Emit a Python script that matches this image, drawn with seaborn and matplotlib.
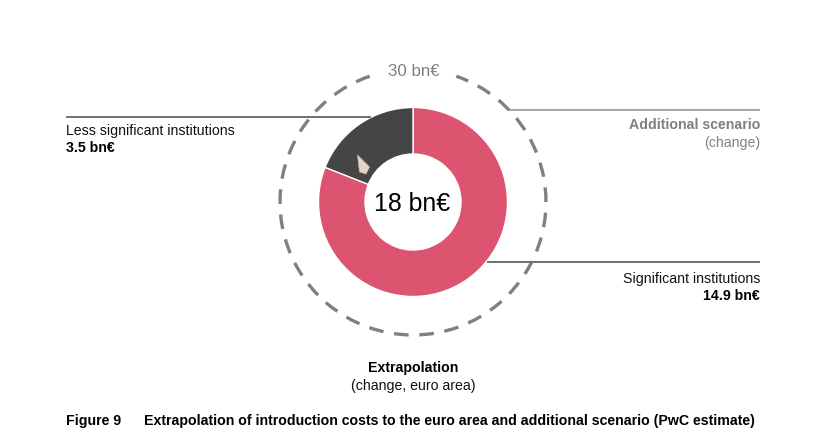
import matplotlib
matplotlib.use('Agg')
import matplotlib.pyplot as plt
from matplotlib.patches import Arc, Polygon
import seaborn as sns

# Data
categories = ['Significant institutions', 'Less significant institutions']
values = [14.9, 3.5]
value_labels = ['14.9 bn€', '3.5 bn€']
total_label = '18 bn€'
scenario_label = '30 bn€'

sns.set_theme(style='white')
plt.rcParams['font.family'] = ['Liberation Sans', 'DejaVu Sans']

H = 448
colors = ['#dc5470', '#454545']
grey = '#808080'

fig = plt.figure(figsize=(8.26, 4.48), dpi=100)
ax = fig.add_axes([0, 0, 1, 1])

cx, cy = 413, H - 202

# Donut
ax.pie(values, colors=colors, startangle=90, counterclock=False,
       center=(cx, cy), radius=94.5, frame=True,
       wedgeprops={'width': 46.5, 'edgecolor': 'white', 'linewidth': 1.0})
ax.set_xlim(0, 826)
ax.set_ylim(0, H)
ax.set_aspect('equal')
ax.axis('off')

# Dashed outer scenario ring, open at the top for its label
ax.add_patch(Arc((cx, cy), 266, 266, theta1=-251, theta2=71, color=grey,
                 linewidth=2.4, linestyle=(0, (4.4, 3.2))))

# Leader lines
ax.plot([66, 371], [H - 117, H - 117], color='#707070', lw=1.4, solid_capstyle='butt')
ax.plot([487, 760], [H - 262, H - 262], color='#707070', lw=1.4, solid_capstyle='butt')
ax.plot([508, 760], [H - 110, H - 110], color='#8c8c8c', lw=1.1, solid_capstyle='butt')

# Pointer glyph on the dark slice
ax.add_patch(Polygon([(357.5, H - 155), (369.5, H - 167), (366, H - 174), (359.5, H - 172)],
                     closed=True, facecolor='#e4d4c2', edgecolor='#c8b8a6', lw=0.5, zorder=5))

ax.text(cx - 1, H - 204, total_label, fontsize=17.9, color='black', ha='center', va='center')
ax.text(414, H - 71, scenario_label, fontsize=12.2, color=grey, ha='center', va='center')

ax.text(66, H - 131, categories[1], fontsize=10.2, color='#111111', ha='left', va='center')
ax.text(66, H - 148, value_labels[1], fontsize=10.2, color='black', ha='left', va='center', fontweight='bold')

ax.text(760, H - 279, categories[0], fontsize=10.2, color='#111111', ha='right', va='center')
ax.text(760, H - 296, value_labels[0], fontsize=10.2, color='black', ha='right', va='center', fontweight='bold')

ax.text(760, H - 125, 'Additional scenario', fontsize=10.2, color=grey, ha='right', va='center', fontweight='bold')
ax.text(760, H - 143, '(change)', fontsize=10.2, color=grey, ha='right', va='center')

ax.text(413, H - 368, 'Extrapolation', fontsize=10.2, color='black', ha='center', va='center', fontweight='bold')
ax.text(413, H - 386, '(change, euro area)', fontsize=10.2, color='#111111', ha='center', va='center')

ax.text(66, H - 421, 'Figure 9', fontsize=10.2, color='black', ha='left', va='center', fontweight='bold')
ax.text(144, H - 421, 'Extrapolation of introduction costs to the euro area and additional scenario (PwC estimate)',
        fontsize=10.2, color='black', ha='left', va='center', fontweight='bold')

fig.savefig('out.png', dpi=100, facecolor='white')
